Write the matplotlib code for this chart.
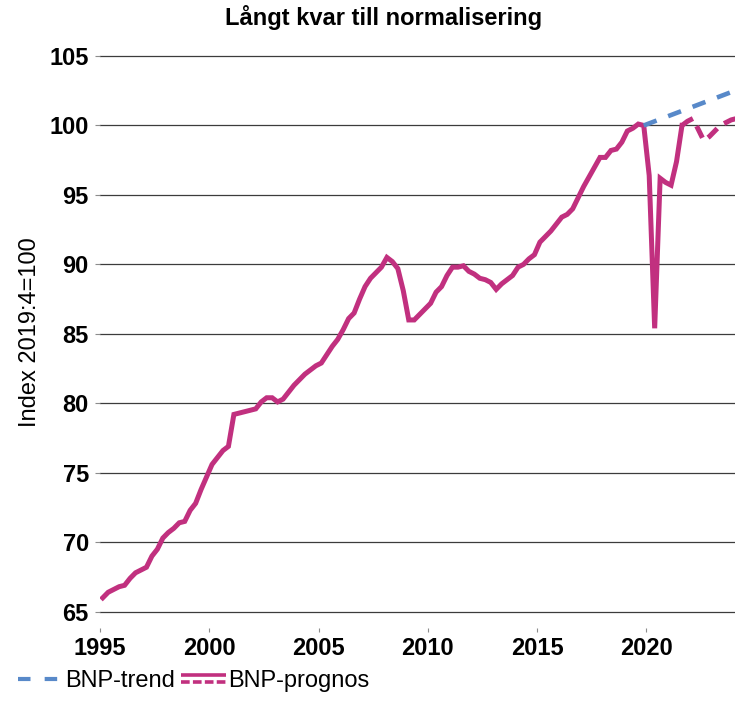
import matplotlib
matplotlib.use('Agg')
import matplotlib.pyplot as plt
import pandas as pd
from matplotlib.legend_handler import HandlerBase
from matplotlib.lines import Line2D

# BNP-utfall, kvartal från 1995Q1 (index 2019:4 = 100)
outcome_start = '1995Q1'
outcome = [
    66.0, 66.4, 66.6, 66.8, 66.9, 67.4, 67.8, 68.0, 68.2, 69.0,
    69.5, 70.3, 70.7, 71.0, 71.4, 71.5, 72.3, 72.8, 73.8, 74.7,
    75.6, 76.1, 76.6, 76.9, 79.2, 79.3, 79.4, 79.5, 79.6, 80.1,
    80.4, 80.4, 80.1, 80.3, 80.8, 81.3, 81.7, 82.1, 82.4, 82.7,
    82.9, 83.5, 84.1, 84.6, 85.3, 86.1, 86.5, 87.5, 88.4, 89.0,
    89.4, 89.8, 90.5, 90.2, 89.7, 88.1, 86.0, 86.0, 86.4, 86.8,
    87.2, 88.0, 88.4, 89.2, 89.8, 89.8, 89.9, 89.5, 89.3, 89.0,
    88.9, 88.7, 88.2, 88.6, 88.9, 89.2, 89.8, 90.0, 90.4, 90.7,
    91.6, 92.0, 92.4, 92.9, 93.4, 93.6, 94.0, 94.8, 95.6, 96.3,
    97.0, 97.7, 97.7, 98.2, 98.3, 98.8, 99.6, 99.8, 100.1, 100.0,
    96.4, 85.4, 96.2, 95.9, 95.7, 97.4, 100.0,
]

# BNP-prognos från 2021Q3
forecast_start = '2021Q3'
forecast = [100.0, 100.3, 100.5, 99.7, 98.9, 99.2, 99.6, 100.0, 100.2, 100.4, 100.5]

# BNP-trend från 2019Q4
trend_start = '2019Q4'
trend = [100.0, 100.15, 100.3, 100.45, 100.6, 100.75, 100.9, 101.05, 101.2,
         101.35, 101.5, 101.65, 101.8, 101.95, 102.1, 102.25, 102.4, 102.55]

year_ticks = [1995, 2000, 2005, 2010, 2015, 2020]
value_ticks = [65, 70, 75, 80, 85, 90, 95, 100, 105]

title = 'Långt kvar till normalisering'
ylabel = 'Index 2019:4=100'
labels = ['BNP-trend', 'BNP-prognos']

MAGENTA = '#C1307F'
BLUE = '#5889C9'
FONT = ['Liberation Sans', 'DejaVu Sans']
SIZE = 17


def quarter_x(start, n):
    # place each quarter in the middle of its slot on a decimal-year axis
    p = pd.period_range(start, periods=n, freq='Q')
    return p.year + (p.quarter - 1) / 4 + 0.125


class DoubleLineHandler(HandlerBase):
    """Solid line over a dashed one, like the prognos legend key."""

    def create_artists(self, legend, orig_handle, xdescent, ydescent,
                       width, height, fontsize, trans):
        x0, x1 = -xdescent, width - xdescent
        y_top = height * 0.72 - ydescent
        y_bot = height * 0.30 - ydescent
        top = Line2D([x0, x1], [y_top, y_top], color=MAGENTA, lw=2.6,
                     solid_capstyle='butt', transform=trans)
        bot = Line2D([x0, x1], [y_bot, y_bot], color=MAGENTA, lw=2.6,
                     dashes=(2.4, 0.9), dash_capstyle='butt', transform=trans)
        return [top, bot]


def main():
    plt.rcParams['font.family'] = FONT

    fig = plt.figure(figsize=(7.35, 7.05), dpi=100)
    W, H = 735, 705
    left, right, top, bottom = 100, 735, 56, 611.7
    ax = fig.add_axes([left / W, (H - bottom) / H,
                       (right - left) / W, (bottom - top) / H])

    for side in ['top', 'right', 'left', 'bottom']:
        ax.spines[side].set_visible(False)
    # category ticks sit a bit below the plot area
    ax.spines['bottom'].set_position(('outward', 11.5))

    ax.plot(quarter_x(outcome_start, len(outcome)), outcome,
            color=MAGENTA, lw=3.6, solid_joinstyle='miter', zorder=3)
    ax.plot(quarter_x(forecast_start, len(forecast)), forecast,
            color=MAGENTA, lw=3.6, dashes=(2.6, 1.7), zorder=3)
    ax.plot(quarter_x(trend_start, len(trend)), trend,
            color=BLUE, lw=3.3, dashes=(3.0, 2.7), zorder=4)

    ax.set_xlim(1995, 2024.05)
    ax.set_ylim(65, 105)

    ax.set_yticks(value_ticks, [str(v) for v in value_ticks],
                  fontweight='bold', fontsize=SIZE)
    ax.set_xticks(year_ticks, [str(y) for y in year_ticks],
                  fontweight='bold', fontsize=SIZE)
    ax.yaxis.grid(True, color='#3c3c3c', lw=0.9)
    ax.set_axisbelow(True)
    for gl in ax.get_ygridlines():
        gl.set_clip_on(False)

    ax.tick_params(axis='y', length=3.6, width=0.8, color='#8c8c8c', pad=4.5)
    ax.tick_params(axis='x', length=3.0, width=0.8, color='#8c8c8c', pad=3.6)

    fig.text(384 / W, 1 - 17 / H, title, ha='center', va='center',
             fontsize=SIZE, fontweight='bold')
    fig.text(30 / W, 1 - 332 / H, ylabel, rotation=90, ha='center',
             va='center', fontsize=SIZE)

    trend_key = Line2D([], [], color=BLUE, lw=3.0, dashes=(3.0, 3.4))
    prognos_key = Line2D([], [], color=MAGENTA)
    fig.legend([trend_key, prognos_key], labels,
               handler_map={prognos_key: DoubleLineHandler()},
               loc='center left', bbox_to_anchor=(18 / W, 1 - 681 / H),
               ncol=2, frameon=False, fontsize=SIZE,
               handlelength=1.9, handletextpad=0.1, columnspacing=0.25,
               borderpad=0, borderaxespad=0)

    fig.savefig('out.png', dpi=100)


if __name__ == '__main__':
    main()
